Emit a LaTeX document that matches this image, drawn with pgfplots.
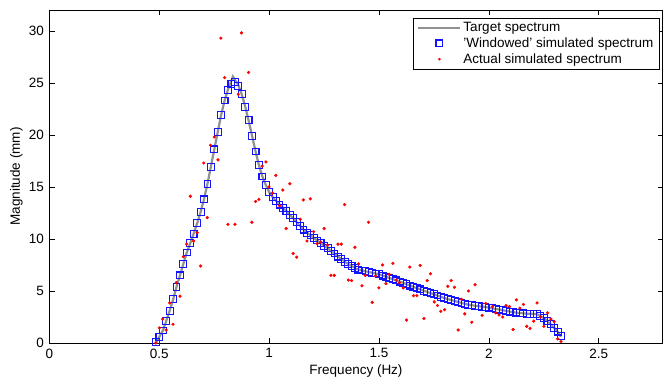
\documentclass[border=0pt]{standalone}
\usepackage{pgfplots}
\pgfplotsset{compat=1.18}
\usepackage{fontspec}
\setmainfont{Liberation Sans}
\definecolor{tgray}{RGB}{145,145,145}
\definecolor{mblue}{RGB}{20,20,255}
\pgfplotsset{
  longline legend/.style={legend image code/.code={\draw[line width=2.2pt, tgray] (0pt,0pt) -- (42pt,0pt);}},
  squarelegend/.style={legend image code/.code={\path[draw=none] (0pt,0pt) -- (42pt,0pt); \path[draw=mblue, fill=none, line width=1.1pt] (17.6pt,-3.4pt) rectangle (24.4pt,3.4pt);}},
  dotlegend/.style={legend image code/.code={\path[draw=none] (0pt,0pt) -- (42pt,0pt); \path[fill=red, draw=none] (21pt,0pt) circle[radius=1.4pt];}},
}
\pgfplotstableread{
x y
0.484 0.0
0.500 0.6
0.516 1.2
0.531 2.1
0.547 3.1
0.563 4.2
0.578 5.4
0.594 6.5
0.609 7.6
0.625 8.7
0.641 9.6
0.656 10.5
0.672 11.5
0.688 12.6
0.703 13.8
0.719 15.3
0.734 16.9
0.750 18.6
0.766 20.3
0.781 21.9
0.797 23.3
0.813 24.4
0.835 25.6
0.859 24.8
0.875 23.9
0.891 22.7
0.906 21.4
0.922 19.9
0.938 18.4
0.953 17.1
0.969 16.0
0.984 15.2
1.000 14.5
1.016 14.0
1.031 13.65
1.047 13.3
1.063 13.0
1.078 12.7
1.094 12.3
1.109 12.0
1.125 11.6
1.141 11.25
1.156 10.9
1.172 10.6
1.188 10.35
1.203 10.1
1.219 9.85
1.234 9.6
1.250 9.35
1.266 9.1
1.281 8.85
1.297 8.6
1.313 8.3
1.328 8.1
1.344 7.8
1.359 7.6
1.375 7.4
1.391 7.2
1.406 7.05
1.422 6.97
1.438 6.9
1.453 6.82
1.469 6.75
1.484 6.68
1.500 6.6
1.516 6.48
1.531 6.37
1.547 6.25
1.563 6.13
1.578 6.02
1.594 5.9
1.609 5.78
1.625 5.65
1.641 5.52
1.656 5.4
1.672 5.27
1.688 5.15
1.703 5.03
1.719 4.91
1.734 4.79
1.750 4.68
1.766 4.56
1.781 4.44
1.797 4.32
1.813 4.22
1.828 4.13
1.844 4.04
1.859 3.95
1.875 3.85
1.891 3.76
1.906 3.68
1.922 3.63
1.938 3.58
1.953 3.54
1.969 3.49
1.984 3.45
2.000 3.4
2.016 3.34
2.031 3.27
2.047 3.21
2.063 3.15
2.078 3.09
2.094 3.02
2.109 2.97
2.125 2.92
2.141 2.88
2.156 2.84
2.172 2.82
2.188 2.81
2.203 2.8
2.219 2.76
2.234 2.6
2.250 2.4
2.266 2.12
2.281 1.8
2.297 1.45
2.313 1.1
2.328 0.6
}\target
\pgfplotstableread{
x y
0.484 0.1
0.500 0.6
0.516 1.2
0.531 2.1
0.547 3.1
0.563 4.2
0.578 5.4
0.594 6.5
0.609 7.6
0.625 8.7
0.641 9.6
0.656 10.5
0.672 11.5
0.688 12.6
0.703 13.8
0.719 15.3
0.734 16.9
0.750 18.6
0.766 20.3
0.781 21.9
0.797 23.3
0.813 24.3
0.828 24.9
0.844 25.1
0.859 24.7
0.875 23.9
0.891 22.7
0.906 21.4
0.922 19.9
0.938 18.4
0.953 17.1
0.969 16.0
0.984 15.2
1.000 14.5
1.016 14.0
1.031 13.65
1.047 13.3
1.063 13.0
1.078 12.7
1.094 12.3
1.109 12.0
1.125 11.6
1.141 11.25
1.156 10.9
1.172 10.6
1.188 10.35
1.203 10.1
1.219 9.85
1.234 9.6
1.250 9.35
1.266 9.1
1.281 8.85
1.297 8.6
1.313 8.3
1.328 8.1
1.344 7.8
1.359 7.6
1.375 7.4
1.391 7.2
1.406 7.05
1.422 6.97
1.438 6.9
1.453 6.82
1.469 6.75
1.484 6.68
1.500 6.6
1.516 6.48
1.531 6.37
1.547 6.25
1.563 6.13
1.578 6.02
1.594 5.9
1.609 5.78
1.625 5.65
1.641 5.52
1.656 5.4
1.672 5.27
1.688 5.15
1.703 5.03
1.719 4.91
1.734 4.79
1.750 4.68
1.766 4.56
1.781 4.44
1.797 4.32
1.813 4.22
1.828 4.13
1.844 4.04
1.859 3.95
1.875 3.85
1.891 3.76
1.906 3.68
1.922 3.63
1.938 3.58
1.953 3.54
1.969 3.49
1.984 3.45
2.000 3.4
2.016 3.34
2.031 3.27
2.047 3.21
2.063 3.15
2.078 3.09
2.094 3.02
2.109 2.97
2.125 2.92
2.141 2.88
2.156 2.84
2.172 2.82
2.188 2.81
2.203 2.8
2.219 2.76
2.234 2.6
2.250 2.4
2.266 2.12
2.281 1.8
2.297 1.45
2.313 1.1
2.328 0.7
}\windowed
\pgfplotstableread{
x y
0.484 0.0
0.500 1.45
0.515 2.3
0.531 1.25
0.547 3.85
0.562 1.8
0.577 5.8
0.594 4.5
0.609 8.3
0.624 9.5
0.641 14.1
0.656 9.8
0.672 10.6
0.688 7.4
0.702 17.3
0.718 12.05
0.733 19.0
0.750 19.8
0.767 17.6
0.780 29.3
0.797 25.5
0.812 11.4
0.844 11.4
0.859 23.9
0.874 29.8
0.906 26.0
0.921 11.6
0.938 13.6
0.953 13.8
0.968 17.0
0.985 17.4
0.999 15.0
1.015 14.4
1.030 16.1
1.047 13.2
1.062 14.7
1.077 11.0
1.094 15.3
1.109 8.6
1.125 8.25
1.141 11.9
1.155 13.75
1.172 9.8
1.187 13.85
1.202 10.7
1.218 9.55
1.234 9.7
1.250 11.0
1.266 9.4
1.281 6.5
1.296 6.5
1.313 9.5
1.328 9.5
1.343 13.3
1.360 6.05
1.375 6.0
1.390 9.2
1.407 7.6
1.422 5.5
1.437 6.5
1.452 11.6
1.469 3.9
1.484 6.45
1.499 5.3
1.516 7.5
1.531 5.7
1.546 6.6
1.563 7.65
1.578 6.05
1.593 5.8
1.610 5.3
1.625 2.2
1.640 7.3
1.657 4.55
1.672 4.55
1.687 7.45
1.704 2.35
1.719 6.0
1.734 6.65
1.751 3.95
1.766 3.6
1.781 3.05
1.798 3.2
1.813 5.45
1.828 6.0
1.843 5.35
1.860 1.25
1.875 4.2
1.890 2.8
1.907 5.0
1.922 2.0
1.937 5.6
1.969 2.65
1.985 3.8
2.016 3.5
2.031 2.9
2.046 2.7
2.063 2.5
2.078 3.6
2.094 3.5
2.110 1.3
2.125 4.15
2.141 3.35
2.157 3.7
2.172 1.6
2.187 1.4
2.204 2.1
2.219 3.85
2.235 2.5
2.250 1.6
2.267 2.9
2.282 2.3
2.297 2.05
2.313 0.4
2.328 0.15
}\actual
\begin{document}
\fontsize{13.5}{16}\selectfont
\begin{tikzpicture}
\path[use as bounding box] (-49.5pt,-39pt) rectangle (613.5pt,343pt);
\begin{axis}[
  scale only axis, width=613pt, height=333pt,
  xmin=0, xmax=2.79, ymin=0, ymax=32,
  xtick={0,0.5,1,1.5,2,2.5}, ytick={0,5,10,15,20,25,30},
  tick align=inside, major tick length=5pt,
  axis line style={line width=0.8pt},
  every tick/.style={black, line width=0.6pt},
  /pgf/number format/assume math mode=true,
  ticklabel style={font=\fontsize{13.5}{16}\selectfont},
  xticklabel style={yshift=-1pt},
  yticklabel style={xshift=-1pt},
  label style={font=\fontsize{13.5}{16}\selectfont},
  xlabel={Frequency (Hz)},
  ylabel={Magnitude (mm)},
  xlabel style={yshift=3pt},
  ylabel style={yshift=-3pt},
  legend style={at={(1,1)}, anchor=north east, xshift=-3pt, yshift=-8pt,
    draw=black, font=\fontsize{13.5}{15}\selectfont,
    cells={anchor=west}, row sep=0pt, inner xsep=4pt, inner ysep=2pt},
]
\addplot[tgray, line width=2.2pt, no markers, longline legend]
  table[x=x,y=y] {\target};
\addlegendentry{Target spectrum}
\addplot[mblue, only marks, mark=square, mark size=3.4pt,
  mark options={draw=mblue, fill=none, line width=1.1pt}, squarelegend]
  table[x=x,y=y] {\windowed};
\addlegendentry{'Windowed' simulated spectrum}
\addplot[red, only marks, mark=*, mark size=1.4pt,
  mark options={draw=red, fill=red}, dotlegend]
  table[x=x,y=y] {\actual};
\addlegendentry{Actual simulated spectrum}
\end{axis}
\end{tikzpicture}
\end{document}
